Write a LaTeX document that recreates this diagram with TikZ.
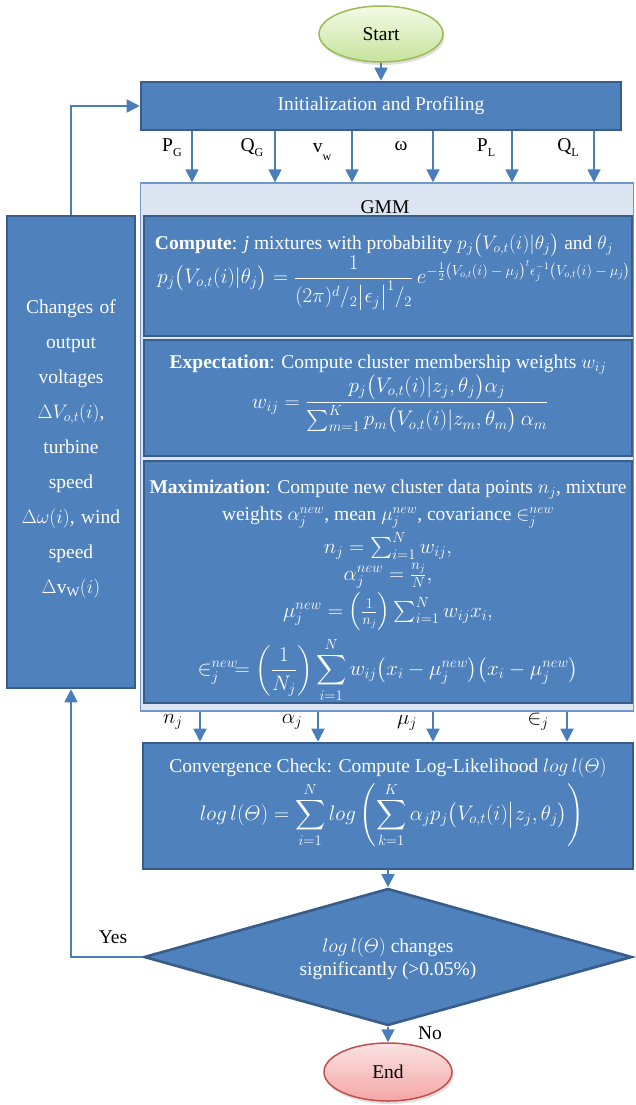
\RequirePackage{fix-cm}
\documentclass[tikz,border=0pt]{standalone}
\usepackage{amsmath,amssymb}
\usepackage{fontspec}
\setmainfont{Liberation Serif}
\usetikzlibrary{arrows.meta,shapes.geometric,shadings,shadows}
\definecolor{boxfill}{HTML}{4F81BD}
\definecolor{boxline}{HTML}{385D8A}
\definecolor{arrowc}{HTML}{4A7EBB}
\definecolor{gmmfill}{HTML}{DCE6F2}
\definecolor{gmmline}{HTML}{6F97CC}
\definecolor{startline}{HTML}{9BBB59}
\definecolor{starttop}{HTML}{F4FAE6}
\definecolor{startbot}{HTML}{C6E39C}
\definecolor{endline}{HTML}{C0504D}
\definecolor{endtop}{HTML}{FBE3E3}
\definecolor{endbot}{HTML}{F4A6A6}
\newcommand\fsz{\fontsize{19.5}{23}\selectfont}
\newcommand\eqsz{\fontsize{21}{25}\selectfont}
\newcommand\Thet{\mathnormal{\Theta}}
\begin{document}
\begin{tikzpicture}[x=1pt,y=-1pt,
  every node/.style={font=\fsz},
  blockbox/.style={draw=boxline, line width=2.6pt, fill=boxfill, text=white, inner sep=0pt, align=center},
  gmmbox/.style={draw=gmmline, line width=1.4pt, fill=gmmfill, inner sep=0pt},
  wtext/.style={text=white, inner sep=0pt, align=center},
  weq/.style={text=white, inner sep=0pt, align=center, font=\eqsz},
  btext/.style={text=black, inner sep=0pt, align=center},
  termstart/.style={ellipse, draw=startline, line width=1.5pt, top color=starttop, bottom color=startbot, inner sep=0pt,
    drop shadow={opacity=0.25, shadow xshift=1.5pt, shadow yshift=-3pt}},
  termend/.style={ellipse, draw=endline, line width=1.5pt, top color=endtop, bottom color=endbot, inner sep=0pt,
    drop shadow={opacity=0.25, shadow xshift=1.5pt, shadow yshift=-3pt}},
  flow/.style={draw=arrowc, line width=1.8pt, -{Triangle[length=13pt,width=13pt]}},
]
\useasboundingbox (0,0) rectangle (635,1105);
\fill[white] (0,0) rectangle (635,1105);

% terminals
\node[termstart, minimum width=124pt, minimum height=56pt] (start) at (381,34) {Start};
\node[termend, minimum width=128pt, minimum height=58pt] (end) at (388,1072) {End};

% init
\node[blockbox, minimum width=480pt, minimum height=48pt] (init) at (381,106) {Initialization and Profiling};

% GMM container
\node[gmmbox, minimum width=493pt, minimum height=528pt] (gmm) at (387,447) {};
\node[btext] (gmmlabel) at (385,207) {GMM};

% compute box
\node[blockbox, minimum width=488pt, minimum height=120pt] (comp) at (388,276) {};
\node[wtext] (comptitle) at (384,245) {\textbf{Compute}: \textit{j} mixtures with probability $p_j\big(V_{o,t}(i)|\theta_j\big)$ and $\theta_j$};
\node[weq] (compeq) at (394,283) {$p_j\big(V_{o,t}(i)|\theta_j\big)=\dfrac{1}{(2\pi)^{d}{/}_{2}\big|\epsilon_j\big|^{1}{/}_{2}}\,e^{\mbox{\fontsize{14.5}{15}\selectfont$-\frac{1}{2}\big(V_{o,t}(i)-\mu_j\big)^t\epsilon_j^{-1}\big(V_{o,t}(i)-\mu_j\big)$}}$};

% expectation box
\node[blockbox, minimum width=488pt, minimum height=116pt] (expe) at (388,398) {};
\node[wtext] (expetitle) at (388,365) {\textbf{Expectation}: Compute cluster membership weights $w_{ij}$};
\node[weq] (expeeq) at (400,404) {$w_{ij}=\dfrac{p_j\big(V_{o,t}(i)|z_j,\theta_j\big)\alpha_j}{\sum_{m=1}^{K}p_m\big(V_{o,t}(i)|z_m,\theta_m\big)\,\alpha_m}$};

% maximization box
\node[blockbox, minimum width=488pt, minimum height=242pt] (maxi) at (388,582) {};
\node[wtext] (maxt1) at (388,490) {\textbf{Maximization}: Compute new cluster data points $n_j$, mixture};
\node[wtext] (maxt2) at (388,518) {weights $\alpha_j^{new}$, mean $\mu_j^{new}$, covariance $\in_j^{new}$};
\node[weq] (maxe1) at (388,546) {$n_j=\sum_{i=1}^{N}w_{ij},$};
\node[weq] (maxe2) at (388,576) {$\alpha_j^{new}=\frac{n_j}{N},$};
\node[weq] (maxe3) at (388,612) {$\mu_j^{new}=\Big(\frac{1}{n_j}\Big)\sum_{i=1}^{N}w_{ij}x_i,$};
\begin{scope}
\clip (maxi.north west) rectangle (maxi.south east);
\node[weq] (maxe4) at (388,670) {$\displaystyle\in_j^{new}\!=\left(\frac{1}{N_j}\right)\sum_{i=1}^{N}w_{ij}\big(x_i-\mu_j^{new}\big)\big(x_i-\mu_j^{new}\big)$};
\end{scope}

% left feedback box
\node[blockbox, minimum width=128pt, minimum height=472pt] (left) at (71,452) {};
\node[wtext, text width=124pt, font=\fontsize{19.5}{35}\selectfont] (lefttext) at (71,449) {Changes of\\ output\\ voltages\\ $\Delta V_{o,t}(i)$,\\ turbine\\ speed\\ $\Delta\omega(i)$, wind\\ speed\\ $\Delta\mathrm{v}_{\mathrm{W}}(i)$};

% convergence box
\node[blockbox, minimum width=490pt, minimum height=126pt] (conv) at (388,806) {};
\node[wtext] (convtitle) at (388,768) {Convergence Check: Compute Log-Likelihood $log\,l(\Thet)$};
\node[weq] (conveq) at (392,815) {$\displaystyle log\,l(\Thet)=\sum_{i=1}^{N}log\left(\sum_{k=1}^{K}\alpha_jp_j\big(V_{o,t}(i)\big|z_j,\theta_j\big)\right)$};

% decision
\node[diamond, draw=boxline, line width=2.6pt, fill=boxfill, inner sep=0pt, minimum width=488pt, minimum height=137pt] (dec) at (388,957) {};
\node[wtext] (dectext) at (388,959) {$log\,l(\Thet)$ changes\\ significantly (>0.05\%)};

% main flow
\draw[flow] (start.south) -- (init.north);
\foreach \xx in {192,275,352,433,512,594}{
  \draw[flow] (\xx,0 |- init.south) -- (\xx,0 |- gmm.north);
}
\node[btext] (lpg) at (172,148) {P\raisebox{-0.55ex}{\fontsize{12}{12}\selectfont G}};
\node[btext] (lqg) at (252,148) {Q\raisebox{-0.55ex}{\fontsize{12}{12}\selectfont G}};
\node[btext] (lvw) at (322,152) {v\raisebox{-0.9ex}{\fontsize{12}{12}\selectfont w}};
\node[btext] (lom) at (401,146) {ω};
\node[btext] (lpl) at (486,148) {P\raisebox{-0.55ex}{\fontsize{12}{12}\selectfont L}};
\node[btext] (lql) at (568,148) {Q\raisebox{-0.55ex}{\fontsize{12}{12}\selectfont L}};

\foreach \xx in {200,318,433,567}{
  \draw[flow] (\xx,0 |- gmm.south) -- (\xx,0 |- conv.north);
}
\node[btext, font=\eqsz] (lnj) at (173,722) {$n_j$};
\node[btext, font=\eqsz] (laj) at (292,722) {$\alpha_j$};
\node[btext, font=\eqsz] (lmj) at (407,723) {$\mu_j$};
\node[btext, font=\eqsz] (lej) at (538,722) {$\in_j$};

\draw[flow] (conv.south) -- (dec.north);
\draw[flow] (dec.south) -- (end.north);
\draw[flow] (dec.west) -| (left.south);
\draw[flow] (left.north) |- (init.west);
\node[btext] (lyes) at (113,937) {Yes};
\node[btext] (lno) at (430,1033) {No};
\end{tikzpicture}
\end{document}
